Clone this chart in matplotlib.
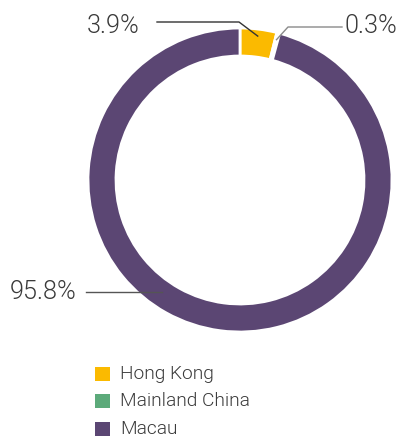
import numpy as np
import matplotlib
matplotlib.use("Agg")
import matplotlib.pyplot as plt
from matplotlib.patches import Rectangle
from matplotlib import font_manager

categories = ["Hong Kong", "Mainland China", "Macau"]
values = [3.9, 0.3, 95.8]
labels = ["3.9%", "0.3%", "95.8%"]
colors = ["#FBBA00", "#5CAA7A", "#5B4673"]

W, H = 400, 437
fig = plt.figure(figsize=(W / 100, H / 100), dpi=100)
ax = fig.add_axes([0, 0, 1, 1])

cx, cy_px, R, ring = 240, 180, 152, 28
cy = H - cy_px

ax.pie(values, colors=colors, startangle=90, counterclock=False, radius=R,
       center=(cx, cy), wedgeprops=dict(width=ring, edgecolor="white", linewidth=2))

ax.set_xlim(0, W)
ax.set_ylim(0, H)
ax.set_aspect("auto")
ax.axis("off")

txt_color = "#3a3a3a"
fam = ["Liberation Sans", "DejaVu Sans"]
wt = "normal"
for name in ("Roboto", "Lato", "Open Sans"):
    if any(f.name == name and f.weight in (300, "light") for f in font_manager.fontManager.ttflist):
        fam = [name, "DejaVu Sans"]
        wt = 300
        break

renderer = fig.canvas.get_renderer()

def fit_size(s, target_px, base=15):
    t = ax.text(0, 0, s, fontsize=base, family=fam, weight=wt)
    w = t.get_window_extent(renderer).width
    t.remove()
    return base * target_px / w

big = fit_size("95.8%", 67)
small = fit_size("Mainland China", 130)

def pt(angle_deg, r):
    a = np.deg2rad(angle_deg)
    return cx + r * np.cos(a), cy + r * np.sin(a)

fr = np.array(values) / sum(values)
starts = 90 - 360 * np.concatenate([[0], np.cumsum(fr)[:-1]])
mids = starts - 360 * fr / 2

x0, y0 = pt(mids[0], 145)
ax.plot([157, 239, x0], [H - 22, H - 22, y0], color="#333333", lw=1)
ax.text(87, H - 26, labels[0], fontsize=big, color=txt_color, family=fam, weight=wt, va="center", ha="left")

x1, y1 = pt(mids[1], 145)
ax.plot([x1, 288, 342], [y1, H - 27, H - 27], color="#8a8a8a", lw=1)
ax.text(345, H - 26, labels[1], fontsize=big, color=txt_color, family=fam, weight=wt, va="center", ha="left")

x2, y2 = pt(235, 136)
ax.plot([86, x2], [H - 292, H - 292], color="#555555", lw=1)
ax.text(10, H - 292, labels[2], fontsize=big, color=txt_color, family=fam, weight=wt, va="center", ha="left")

leg_y = [374, 401, 429]
for cat, col, yy in zip(categories, colors, leg_y):
    ax.add_patch(Rectangle((95, H - yy - 7), 15, 14, facecolor=col, edgecolor="none"))
    ax.text(120, H - yy, cat, fontsize=small, color=txt_color, family=fam, weight=wt, va="center", ha="left")

fig.savefig("out.png", dpi=100)
